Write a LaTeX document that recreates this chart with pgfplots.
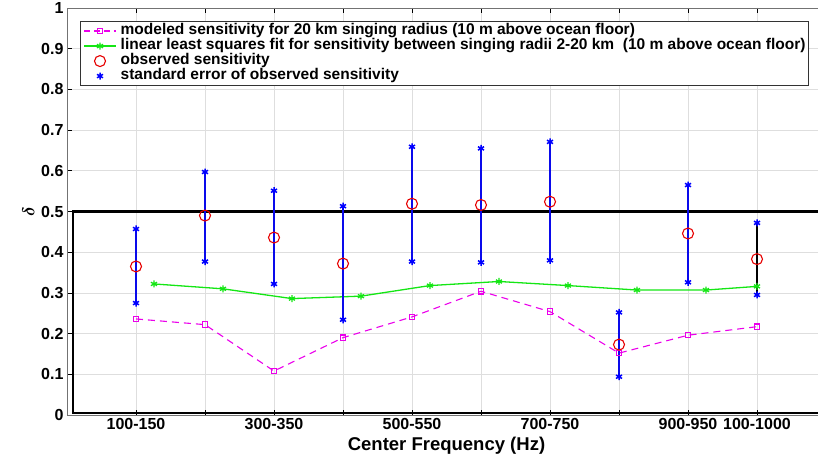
\documentclass[border=0pt]{standalone}
\usepackage{fontspec}
\setmainfont{Liberation Sans}
\usepackage{pgfplots}
\pgfplotsset{compat=1.18}
\definecolor{mag}{RGB}{235,0,235}
\definecolor{grn}{RGB}{20,230,20}
\definecolor{obsred}{RGB}{230,0,0}
\definecolor{errblue}{RGB}{0,0,255}
\definecolor{barblue}{RGB}{10,10,235}
\pgfplotsset{mylegline/.style={legend image code/.code={\draw[mark repeat=2,mark phase=2,##1] plot coordinates {(0pt,0pt) (16pt,0pt) (32pt,0pt)};}}}
\begin{document}
\begin{tikzpicture}
\begin{axis}[
  scale only axis, width=759pt, height=407pt,
  xmin=0, xmax=11, ymin=0, ymax=1,
  xtick={1,2,3,4,5,6,7,8,9,10},
  xticklabels={100-150,,300-350,,500-550,,700-750,,900-950,100-1000},
  ytick={0,0.1,0.2,0.3,0.4,0.5,0.6,0.7,0.8,0.9,1},
  yticklabels={0,0.1,0.2,0.3,0.4,0.5,0.6,0.7,0.8,0.9,1},
  grid=major, grid style={black!13, line width=0.6pt},
  axis line style={black!55, line width=0.8pt},
  tick align=inside, major tick length=5pt, tick style={black, line width=0.6pt},
  tick label style={font=\fontsize{16}{16}\selectfont\bfseries},
  xlabel={Center Frequency (Hz)},
  xlabel style={font=\fontsize{18.5}{18.5}\selectfont\bfseries, yshift=0pt},
  ylabel={$\delta$},
  ylabel style={font=\fontsize{18}{18}\selectfont\boldmath},
  legend cell align=left,
  legend style={at={(0.017,0.967)}, anchor=north west, draw=black!80, line width=0.8pt, fill=white,
    font=\fontsize{15.5}{15.5}\selectfont\bfseries, inner xsep=3pt, inner ysep=2.5pt, row sep=1.5pt, column sep=4pt,
    nodes={inner sep=0pt, text height=10.5pt, text depth=3pt}},
]
\addlegendimage{mag, dashed, dash pattern=on 6pt off 4pt, line width=1.4pt, mark=square, mark size=2.7pt, mark options={solid, line width=1pt}, mylegline}
\addlegendentry{modeled sensitivity for 20 km singing radius (10 m above ocean floor)}
\addlegendimage{grn, line width=1.4pt, mark=asterisk, mark size=3.5pt, mylegline}
\addlegendentry{linear least squares fit for sensitivity between singing radii 2-20 km\ \ (10 m above ocean floor)}
\addlegendimage{only marks, obsred, mark=o, mark size=5.5pt, line width=1.1pt, mylegline}
\addlegendentry{observed sensitivity}
\addlegendimage{only marks, errblue, mark=asterisk, mark size=3.5pt, line width=1.5pt, mylegline}
\addlegendentry{standard error of observed sensitivity}

% black box
\addplot[black, line width=2.2pt, forget plot] coordinates {(11,0.005) (0.09,0.005) (0.09,0.5) (11,0.5)};

% modeled
\addplot[mag, dashed, dash pattern=on 7pt off 5pt, line width=1.1pt, mark=square, mark size=2.7pt, mark options={solid}, forget plot]
  coordinates {(1,0.236) (2,0.222) (3,0.108) (4,0.190) (5,0.241) (6,0.304) (7,0.254) (8,0.152) (9,0.196) (10,0.217)};
% linear fit
\addplot[grn, line width=1.3pt, mark=asterisk, mark size=3.5pt, forget plot]
  coordinates {(1.26,0.322) (2.26,0.310) (3.26,0.286) (4.26,0.292) (5.26,0.318) (6.26,0.328) (7.26,0.318) (8.26,0.307) (9.26,0.307) (10,0.316)};

% error bars
\pgfplotsset{eb/.style={draw=barblue, line width=2pt, mark=asterisk, mark size=3.5pt, mark options={draw=errblue, line width=1.5pt}, forget plot}}
\addplot[eb] coordinates {(1,0.275) (1,0.457)};
\addplot[eb] coordinates {(2,0.377) (2,0.597)};
\addplot[eb] coordinates {(3,0.322) (3,0.551)};
\addplot[eb] coordinates {(4,0.234) (4,0.513)};
\addplot[eb] coordinates {(5,0.377) (5,0.659)};
\addplot[eb] coordinates {(6,0.375) (6,0.655)};
\addplot[eb] coordinates {(7,0.380) (7,0.671)};
\addplot[eb] coordinates {(8,0.094) (8,0.252)};
\addplot[eb] coordinates {(9,0.326) (9,0.565)};
\addplot[eb, draw=black] coordinates {(10,0.295) (10,0.472)};

% observed
\addplot[only marks, obsred, mark=o, mark size=5.5pt, line width=1.1pt, forget plot]
  coordinates {(1,0.365) (2,0.490) (3,0.436) (4,0.372) (5,0.519) (6,0.516) (7,0.524) (8,0.173) (9,0.446) (10,0.383)};
\end{axis}
\pgfresetboundingbox
\path[use as bounding box] ([xshift=-67pt,yshift=-44pt]current axis.south west) rectangle ([xshift=751pt,yshift=8pt]current axis.north west);
\end{tikzpicture}
\end{document}
